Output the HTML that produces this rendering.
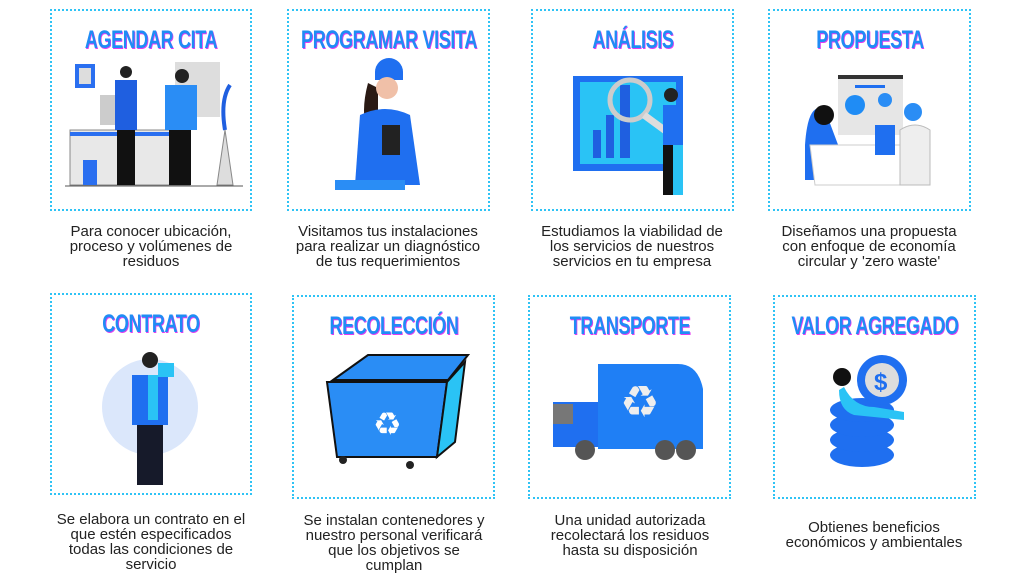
<!DOCTYPE html>
<html><head><meta charset="utf-8"><style>
body{margin:0;width:1024px;height:577px;background:#fff;position:relative;overflow:hidden;font-family:"Liberation Sans",sans-serif}
.box{position:absolute;border:2px dotted #2fc3f5;box-sizing:border-box}
.t{position:absolute;height:30px;font-family:"Liberation Sans",sans-serif;font-weight:bold;font-size:25px;color:#1f8cf5;text-shadow:1px 1px 0 #e33cf0;letter-spacing:-0.5px;white-space:nowrap}
.t span{position:absolute;left:50%;top:0;transform:translateX(-50%) scaleX(0.72)}
.d{position:absolute;text-align:center;font-size:15px;line-height:15px;color:#222;width:240px;white-space:nowrap}
svg{position:absolute}
</style></head><body>
<div class="box" style="left:50px;top:9px;width:202px;height:202px"></div>
<div class="box" style="left:287px;top:9px;width:203px;height:202px"></div>
<div class="box" style="left:531px;top:9px;width:203px;height:202px"></div>
<div class="box" style="left:768px;top:9px;width:203px;height:202px"></div>
<div class="box" style="left:50px;top:293px;width:202px;height:202px"></div>
<div class="box" style="left:292px;top:295px;width:203px;height:204px"></div>
<div class="box" style="left:528px;top:295px;width:203px;height:204px"></div>
<div class="box" style="left:773px;top:295px;width:203px;height:204px"></div>

<div class="t" style="left:50px;width:202px;top:26px"><span>AGENDAR CITA</span></div>
<div class="t" style="left:287px;width:203px;top:26px"><span>PROGRAMAR VISITA</span></div>
<div class="t" style="left:531px;width:203px;top:26px"><span>ANÁLISIS</span></div>
<div class="t" style="left:768px;width:203px;top:26px"><span>PROPUESTA</span></div>
<div class="t" style="left:50px;width:202px;top:310px"><span>CONTRATO</span></div>
<div class="t" style="left:292px;width:203px;top:312px"><span>RECOLECCIÓN</span></div>
<div class="t" style="left:528px;width:203px;top:312px"><span>TRANSPORTE</span></div>
<div class="t" style="left:773px;width:203px;top:312px"><span>VALOR AGREGADO</span></div>

<div class="d" style="left:31px;top:224px">Para conocer ubicación,<br>proceso y volúmenes de<br>residuos</div>
<div class="d" style="left:268px;top:224px">Visitamos tus instalaciones<br>para realizar un diagnóstico<br>de tus requerimientos</div>
<div class="d" style="left:512px;top:224px">Estudiamos la viabilidad de<br>los servicios de nuestros<br>servicios en tu empresa</div>
<div class="d" style="left:749px;top:224px">Diseñamos una propuesta<br>con enfoque de economía<br>circular y 'zero waste'</div>
<div class="d" style="left:31px;top:512px">Se elabora un contrato en el<br>que estén especificados<br>todas las condiciones de<br>servicio</div>
<div class="d" style="left:274px;top:513px">Se instalan contenedores y<br>nuestro personal verificará<br>que los objetivos se<br>cumplan</div>
<div class="d" style="left:510px;top:513px">Una unidad autorizada<br>recolectará los residuos<br>hasta su disposición</div>
<div class="d" style="left:754px;top:520px">Obtienes beneficios<br>económicos y ambientales</div>

<svg style="left:65px;top:60px" width="180" height="130">
<rect x="10" y="4" width="20" height="24" fill="#2a6ff0"/><rect x="14" y="8" width="12" height="16" fill="#ddd"/>
<rect x="110" y="2" width="45" height="55" fill="#ddd"/>
<rect x="35" y="35" width="30" height="30" fill="#ccc"/>
<rect x="5" y="70" width="120" height="55" fill="#e8e8e8" stroke="#888"/>
<rect x="5" y="72" width="120" height="4" fill="#2a6ff0"/>
<rect x="18" y="100" width="14" height="25" fill="#2a6ff0"/>
<path d="M50 20 h22 v50 h-22z" fill="#1f5fe0"/><rect x="52" y="70" width="18" height="55" fill="#111"/>
<circle cx="61" cy="12" r="6" fill="#222"/>
<path d="M100 25 h32 v45 h-32z" fill="#2a8df5"/><rect x="104" y="70" width="22" height="55" fill="#111"/>
<circle cx="117" cy="16" r="7" fill="#222"/>
<path d="M152 125 l8 -55 l8 55z" fill="#ddd" stroke="#888"/>
<path d="M160 70 q-5 -30 5 -45" stroke="#1f5fe0" stroke-width="4" fill="none"/>
<line x1="0" y1="126" x2="178" y2="126" stroke="#555"/>
</svg>
<svg style="left:330px;top:55px" width="110" height="145">
<path d="M45 5 a14 14 0 0 1 28 0 v8 h-28z" fill="#1f6ff0" transform="translate(0,12)"/>
<path d="M38 28 q-8 30 0 50 h10 v-45z" fill="#2a1a14"/>
<circle cx="57" cy="33" r="11" fill="#f0c0a8"/>
<path d="M30 60 q25 -12 50 0 l10 70 h-65z" fill="#1f6ff0"/>
<rect x="52" y="70" width="18" height="30" fill="#222"/>
<rect x="5" y="125" width="70" height="10" fill="#2a8df5"/>
</svg>
<svg style="left:568px;top:70px" width="140" height="130">
<rect x="5" y="6" width="110" height="95" fill="#1f6ff0"/><rect x="12" y="12" width="96" height="82" fill="#2ac3f5"/>
<rect x="25" y="60" width="8" height="28" fill="#1f5fe0"/><rect x="38" y="45" width="8" height="43" fill="#1f5fe0"/><rect x="52" y="15" width="10" height="73" fill="#1f5fe0"/>
<circle cx="62" cy="30" r="20" fill="none" stroke="#ccc" stroke-width="5"/>
<line x1="76" y1="45" x2="110" y2="70" stroke="#ddd" stroke-width="7"/>
<circle cx="103" cy="25" r="7" fill="#222"/>
<path d="M95 35 h20 v40 h-20z" fill="#1f6ff0"/>
<path d="M95 75 h10 v50 h-10z" fill="#111"/><path d="M105 75 h10 v50 h-10z" fill="#2ac3f5"/>
</svg>
<svg style="left:800px;top:55px" width="145" height="135">
<rect x="38" y="22" width="65" height="58" fill="#e6e6e6"/><rect x="38" y="20" width="65" height="4" fill="#333"/>
<circle cx="55" cy="50" r="10" fill="#1f8cf5"/>
<rect x="55" y="30" width="30" height="3" fill="#1f6ff0"/>
<path d="M5 90 q3 -45 20 -35 l15 40 v30 h-35z" fill="#1f6ff0"/><circle cx="24" cy="60" r="10" fill="#111"/>
<path d="M10 90 h120 l-5 40 h-110z" fill="#fff" stroke="#ccc"/>
<path d="M100 75 q15 -10 30 0 l0 55 h-30z" fill="#eee" stroke="#bbb"/>
<circle cx="113" cy="57" r="9" fill="#2a8df5"/>
<path d="M75 70 h20 v30 h-20z" fill="#1f6ff0"/><circle cx="85" cy="45" r="7" fill="#2a8df5"/>
</svg>
<svg style="left:100px;top:345px" width="100" height="145">
<circle cx="50" cy="62" r="48" fill="#dbe7fb"/>
<circle cx="50" cy="15" r="8" fill="#222"/>
<path d="M32 30 h36 v50 h-36z" fill="#1f6ff0"/>
<rect x="48" y="30" width="10" height="45" fill="#2ac3f5"/>
<rect x="58" y="18" width="16" height="14" fill="#2ac3f5"/>
<rect x="37" y="80" width="26" height="60" fill="#161a2a"/>
</svg>
<svg style="left:315px;top:350px" width="155" height="120">
<path d="M18 30 l35 -25 h100 l-20 25z" fill="#2a8df5" stroke="#111" stroke-width="2"/>
<path d="M12 32 h120 l-10 75 h-100z" fill="#2a8df5" stroke="#111" stroke-width="2"/>
<path d="M132 32 l18 -20 l-10 80 l-18 15z" fill="#2ac3f5" stroke="#111" stroke-width="2"/>
<text x="58" y="85" font-size="32" fill="#fff" font-family="DejaVu Sans">♻</text>
<circle cx="28" cy="110" r="4" fill="#222"/><circle cx="95" cy="115" r="4" fill="#222"/>
</svg>
<svg style="left:548px;top:362px" width="165" height="100">
<path d="M50 2 h80 q20 0 25 25 v60 h-105z" fill="#1f7ff5"/>
<path d="M5 40 h45 v45 h-45z" fill="#1f6ff0"/><rect x="5" y="42" width="20" height="20" fill="#777"/>
<text x="72" y="55" font-size="44" fill="#eee" font-family="DejaVu Sans">♻</text>
<circle cx="37" cy="88" r="10" fill="#555"/><circle cx="117" cy="88" r="10" fill="#555"/><circle cx="138" cy="88" r="10" fill="#555"/>
</svg>
<svg style="left:822px;top:355px" width="100" height="115">
<ellipse cx="40" cy="100" rx="32" ry="12" fill="#1f6ff0"/>
<ellipse cx="40" cy="85" rx="32" ry="12" fill="#1f6ff0"/>
<ellipse cx="40" cy="70" rx="32" ry="12" fill="#1f6ff0"/>
<ellipse cx="40" cy="55" rx="32" ry="12" fill="#1f6ff0"/>
<circle cx="60" cy="25" r="25" fill="#1f6ff0"/><circle cx="60" cy="25" r="17" fill="#ddd"/>
<text x="52" y="35" font-size="24" fill="#1f6ff0" font-weight="bold">$</text>
<circle cx="20" cy="22" r="9" fill="#111"/>
<path d="M22 32 q10 20 30 20 l30 5 v8 l-50 -5 q-15 -5 -15 -25z" fill="#2ac3f5"/>
</svg>
</body></html>
